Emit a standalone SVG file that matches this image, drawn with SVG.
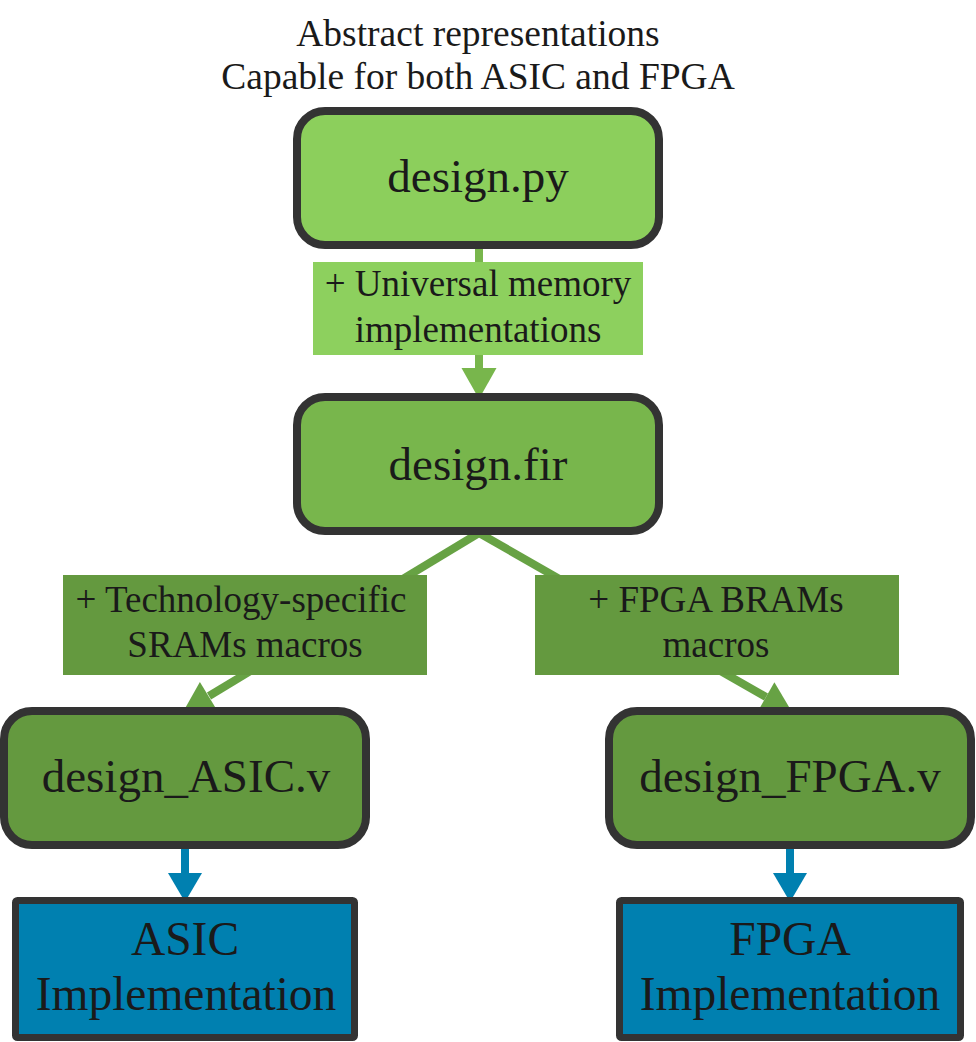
<svg xmlns="http://www.w3.org/2000/svg" width="976" height="1042" viewBox="0 0 976 1042">
<style>
.rnode{stroke:#333333;stroke-width:8}
.bnode{stroke:#333333;stroke-width:7;fill:#0080b0}
</style>
<rect width="976" height="1042" fill="#ffffff"/>
<g id="title">
<text font-family="Liberation Serif" font-size="37.5" fill="#1a1a1a" text-anchor="middle" x="478" y="46">Abstract representations</text>
<text font-family="Liberation Serif" font-size="37.5" fill="#1a1a1a" text-anchor="middle" x="478" y="89">Capable for both ASIC and FPGA</text>
</g>
<g id="connectors">
<line x1="479" y1="245" x2="479" y2="372" stroke="#78b64c" stroke-width="8"/>
<polygon points="461.5,368 496.5,368 479,399" fill="#78b64c"/>
<line x1="479" y1="533" x2="209" y2="696" stroke="#67a244" stroke-width="8"/>
<polygon points="183,712 199.9,682 217.5,711" fill="#67a244"/>
<line x1="479" y1="533" x2="766" y2="697" stroke="#67a244" stroke-width="8"/>
<polygon points="792,712 774.4,682.2 757.6,711.8" fill="#67a244"/>
<line x1="185" y1="845" x2="185" y2="878" stroke="#0080b0" stroke-width="8"/>
<polygon points="168,873 202,873 185,902" fill="#0080b0"/>
<line x1="790" y1="845" x2="790" y2="878" stroke="#0080b0" stroke-width="8"/>
<polygon points="773,873 807,873 790,902" fill="#0080b0"/>
</g>
<g id="label-universal">
<rect x="313" y="262" width="330" height="93" fill="#8dd05e"/>
<text font-family="Liberation Serif" font-size="37" fill="#1a1a1a" text-anchor="middle" x="478" y="296">+ Universal memory</text>
<text font-family="Liberation Serif" font-size="37" fill="#1a1a1a" text-anchor="middle" x="478" y="342">implementations</text>
</g>
<g id="label-tech">
<rect x="63" y="575" width="364" height="100" fill="#64993f"/>
<text font-family="Liberation Serif" font-size="37" fill="#1a1a1a" text-anchor="middle" x="241" y="612">+ Technology-specific</text>
<text font-family="Liberation Serif" font-size="37" fill="#1a1a1a" text-anchor="middle" x="245" y="657">SRAMs macros</text>
</g>
<g id="label-fpga">
<rect x="535" y="575" width="364" height="100" fill="#64993f"/>
<text font-family="Liberation Serif" font-size="37" fill="#1a1a1a" text-anchor="middle" x="716" y="612">+ FPGA BRAMs</text>
<text font-family="Liberation Serif" font-size="37" fill="#1a1a1a" text-anchor="middle" x="716" y="657">macros</text>
</g>
<g id="node-design-py">
<rect class="rnode" x="297" y="111" width="362" height="134" rx="28" fill="#8ccf5c"/>
<text font-family="Liberation Serif" font-size="47" fill="#1a1a1a" text-anchor="middle" x="478" y="192">design.py</text>
</g>
<g id="node-design-fir">
<rect class="rnode" x="297" y="397" width="362" height="134" rx="28" fill="#78b64c"/>
<text font-family="Liberation Serif" font-size="47" fill="#1a1a1a" text-anchor="middle" x="478" y="480">design.fir</text>
</g>
<g id="node-design-asic">
<rect class="rnode" x="4" y="711" width="362" height="134" rx="28" fill="#64993f"/>
<text font-family="Liberation Serif" font-size="47" fill="#1a1a1a" text-anchor="middle" x="186" y="792">design_ASIC.v</text>
</g>
<g id="node-design-fpga">
<rect class="rnode" x="609" y="711" width="362" height="134" rx="28" fill="#64993f"/>
<text font-family="Liberation Serif" font-size="47" fill="#1a1a1a" text-anchor="middle" x="790" y="792">design_FPGA.v</text>
</g>
<g id="node-asic-impl">
<rect class="bnode" x="15.5" y="900.5" width="339" height="137" rx="2"/>
<text font-family="Liberation Serif" font-size="47.5" fill="#1a1a1a" text-anchor="middle" x="185" y="955">ASIC</text>
<text font-family="Liberation Serif" font-size="47.5" fill="#1a1a1a" text-anchor="middle" x="186" y="1010">Implementation</text>
</g>
<g id="node-fpga-impl">
<rect class="bnode" x="619.5" y="900.5" width="341" height="137" rx="2"/>
<text font-family="Liberation Serif" font-size="47.5" fill="#1a1a1a" text-anchor="middle" x="790" y="955">FPGA</text>
<text font-family="Liberation Serif" font-size="47.5" fill="#1a1a1a" text-anchor="middle" x="790" y="1010">Implementation</text>
</g>
</svg>
